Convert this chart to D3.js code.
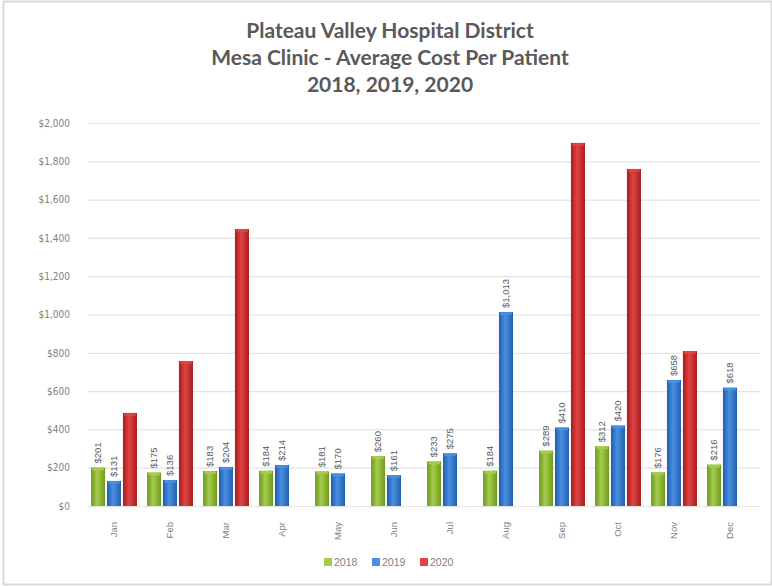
<!DOCTYPE html>
<html>
<head>
<meta charset="utf-8">
<script src="https://cdn.jsdelivr.net/npm/d3@7"></script>
<style>
  body { margin: 0; background: #fff; }
  svg { display: block; }
</style>
</head>
<body>
<svg id="chart"></svg>
<script>
const months = ['Jan','Feb','Mar','Apr','May','Jun','Jul','Aug','Sep','Oct','Nov','Dec']
const years = ['2018','2019','2020']
const cost2018 = [201,175,183,184,181,260,233,184,289,312,176,216]
const cost2019 = [131,136,204,214,170,161,275,1013,410,420,658,618]
const cost2020 = [486,757,1446,null,null,null,null,null,1896,1760,809,null]
const yTicks = [0,200,400,600,800,1000,1200,1400,1600,1800,2000]
const titleLines = ['Plateau Valley Hospital District','Mesa Clinic - Average Cost Per Patient','2018, 2019, 2020']

const colors = { '2018': ['#6f9a1e','#a6cc4a'], '2019': ['#1f5fae','#4a8fe0'], '2020': ['#a81c1c','#e04444'] }

const W = 772, H = 586
const svg = d3.select('#chart').attr('width', W).attr('height', H)

// frame
svg.append('rect').attr('x',3.5).attr('y',1.5).attr('width',W-4).attr('height',H-3)
  .attr('fill','none').attr('stroke','#d9d9d9').attr('stroke-width',2)

const defs = svg.append('defs')
years.forEach(y => {
  const g = defs.append('linearGradient').attr('id','g'+y).attr('x1','0').attr('x2','1').attr('y1','0').attr('y2','0')
  g.append('stop').attr('offset','0%').attr('stop-color',colors[y][0])
  g.append('stop').attr('offset','45%').attr('stop-color',colors[y][1])
  g.append('stop').attr('offset','100%').attr('stop-color',colors[y][0])
})

// title
svg.append('g').selectAll('text').data(titleLines).enter().append('text')
  .attr('x', 390).attr('y', (d,i) => 38 + i*27)
  .attr('text-anchor','middle')
  .style('font-family','Lato, "Open Sans", sans-serif').style('font-weight','bold')
  .style('font-size','21px').attr('fill','#595959')
  .text(d => d)

const plotL = 88, plotR = 760, plotT = 123, plotB = 506

const y = d3.scaleLinear().domain([0,2000]).range([plotB, plotT])
const x = d3.scaleBand().domain(months).range([plotL-2, plotR-2]).paddingInner(0.18).paddingOuter(0.09)
const xs = d3.scaleBand().domain(years).range([0, x.bandwidth()]).paddingInner(0.12)

// grid
svg.append('g').selectAll('line').data(yTicks).enter().append('line')
  .attr('x1', plotL).attr('x2', plotR)
  .attr('y1', d => y(d)+0.5).attr('y2', d => y(d)+0.5)
  .attr('stroke','#e3e3e3').attr('stroke-width',1.2)

const yAxis = d3.axisLeft(y).tickValues(yTicks).tickSize(0).tickPadding(0)
  .tickFormat(d => '$' + d3.format(',')(d))
const ya = svg.append('g').attr('transform', `translate(${plotL-18},0)`).call(yAxis)
ya.select('.domain').remove()
ya.selectAll('text').style('font-family','"Liberation Sans Narrow", "DejaVu Sans Condensed", sans-serif')
  .style('font-size','10px').attr('fill','#7f7f7f')

// x labels
svg.append('g').selectAll('text').data(months).enter().append('text')
  .attr('transform', d => `translate(${x(d)+x.bandwidth()/2+3},${522}) rotate(-90)`)
  .attr('text-anchor','end')
  .style('font-family','"Liberation Sans Narrow", sans-serif').style('font-size','9.5px').attr('fill','#7f7f7f')
  .text(d => d)

const series = { '2018': cost2018, '2019': cost2019, '2020': cost2020 }
const data = []
years.forEach(yr => months.forEach((m,i) => { if (series[yr][i] != null) data.push({yr, m, v: series[yr][i]}) }))

const bars = svg.append('g')
bars.selectAll('rect.bar').data(data).enter().append('rect').attr('class','bar')
  .attr('x', d => x(d.m) + xs(d.yr)).attr('width', xs.bandwidth())
  .attr('y', d => y(d.v)).attr('height', d => plotB - y(d.v))
  .attr('fill', d => 'url(#g'+d.yr+')')
bars.selectAll('rect.cap').data(data).enter().append('rect').attr('class','cap')
  .attr('x', d => x(d.m) + xs(d.yr)+1).attr('width', xs.bandwidth()-2)
  .attr('y', d => y(d.v)).attr('height', 3).attr('rx',1.5)
  .attr('fill', d => colors[d.yr][1]).attr('opacity',0.9)

// data labels (2018, 2019)
const labelled = data.filter(d => d.yr !== '2020')
svg.append('g').selectAll('text').data(labelled).enter().append('text')
  .attr('transform', d => `translate(${x(d.m)+xs(d.yr)+xs.bandwidth()/2+3},${y(d.v)-4}) rotate(-90)`)
  .style('font-family','"Liberation Sans Narrow", sans-serif').style('font-size','9.5px').attr('fill','#595959')
  .text(d => '$' + d3.format(',')(d.v))

// legend
const lg = svg.append('g').attr('transform','translate(324,562)')
years.forEach((yr,i) => {
  const g = lg.append('g').attr('transform', `translate(${i*48},0)`)
  g.append('rect').attr('x',0).attr('y',-4).attr('width',8).attr('height',8).attr('fill', colors[yr][1])
  g.append('text').attr('x',10).attr('y',4)
    .style('font-family','"Liberation Sans Narrow", sans-serif').style('font-size','10.5px').attr('fill','#7f7f7f')
    .text(yr)
})
</script>
</body>
</html>
